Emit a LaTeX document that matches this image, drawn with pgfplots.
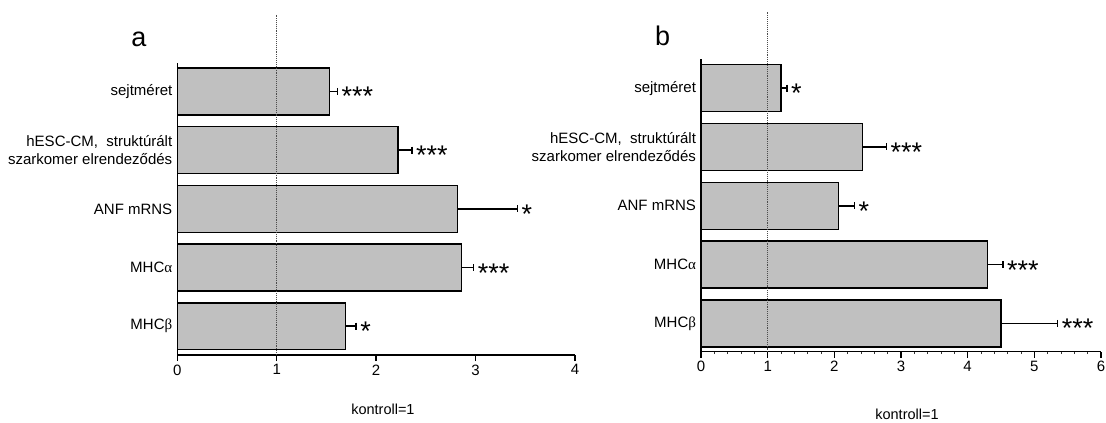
\documentclass[border=0pt]{standalone}
\usepackage{fontspec}
\setmainfont{Liberation Sans}
\newfontfamily\grk{Liberation Serif}
\usepackage{pgfplots}
\usepackage{pgfplotstable}
\pgfplotsset{compat=1.18}
\definecolor{barfill}{HTML}{C0C0C0}

\pgfplotstableread{
y v e s
4 1.53 0.08 ***
3 2.22 0.14 ***
2 2.82 0.60 *
1 2.86 0.12 ***
0 1.69 0.11 *
}\tablea

\pgfplotstableread{
y v e s
4 1.20 0.09 *
3 2.42 0.36 ***
2 2.06 0.24 *
1 4.30 0.23 ***
0 4.50 0.85 ***
}\tableb

\pgfplotsset{
  panel/.style={
    scale only axis,
    axis x line=bottom, axis y line=left,
    axis line style={-, line width=1.5pt},
    xmin=0,
    ytick={0,...,4},
    yticklabels={{MHC{\grk β}},{MHC{\grk α}},{ANF mRNS},{hESC-CM,\ \ struktúrált\\szarkomer elrendeződés},{sejtméret}},
    major y tick style={draw=none},
    major x tick style={line width=1.4pt, black},
    minor x tick style={line width=0.8pt, black!80},
    tick align=outside,
    major tick length=6pt,
    minor tick length=2.5pt,
    clip=false,
    /pgf/number format/assume math mode=true,
    tick label style={font=\fontsize{15}{18}\selectfont},
    yticklabel style={align=right, xshift=4.5pt},
    xlabel style={font=\fontsize{14.5}{17}\selectfont, anchor=base, inner sep=0pt},
    /pgfplots/error bars/error bar style={line width=1.6pt, solid, black},
    /pgfplots/error bars/error mark=|,
    /pgfplots/error bars/error mark options={line width=1.6pt, mark size=3.5pt, black, solid},
  },
  bars/.style={xbar, bar width=0.8, fill=barfill, draw=black, line width=1.5pt,
    error bars/.cd, x dir=plus, x explicit},
  stars/.style={draw=none, mark=none, nodes near coords, point meta=explicit symbolic,
    every node near coord/.append style={anchor=base west, inner sep=0pt, xshift=4pt, yshift=-14.5pt,
      font=\fontsize{27}{27}\selectfont, text=black}},
  refline/.style={densely dotted, line width=1.1pt, black!70},
}

\begin{document}
\begin{tikzpicture}
\path (0,0) rectangle (1106pt,423pt);

% panel a
\begin{axis}[panel,
  at={(177.3pt,68pt)}, anchor=south west,
  width=397.7pt, height=292.3pt,
  xmax=4, xtick={0,1,2,3,4},
  ymin=-0.49, ymax=4.49,
  xlabel={kontroll=1},
  xlabel style={at={(axis description cs:0.517,-0.205)}},
]
\addplot[bars] table[x=v, y=y, x error=e]{\tablea};
\addplot[stars] table[x expr=\thisrow{v}+\thisrow{e}, y=y, meta=s]{\tablea};
\addplot[refline] coordinates {(1,-0.49) (1,5.31)};
\end{axis}

% panel b
\begin{axis}[panel,
  at={(701pt,71.3pt)}, anchor=south west,
  width=400pt, height=293pt,
  xmax=6, xtick={0,1,2,3,4,5,6},
  minor x tick num=4,
  ymin=-0.48, ymax=4.5,
  xlabel={kontroll=1},
  xlabel style={at={(axis description cs:0.515,-0.2297)}},
]
\addplot[bars] table[x=v, y=y, x error=e]{\tableb};
\addplot[stars] table[x expr=\thisrow{v}+\thisrow{e}, y=y, meta=s]{\tableb};
\addplot[refline] coordinates {(1,-0.48) (1,5.3)};
\end{axis}

\node[anchor=base, font=\fontsize{27}{27}\selectfont, inner sep=0pt] at (139pt,376.6pt) {a};
\node[anchor=base, font=\fontsize{27}{27}\selectfont, inner sep=0pt] at (662.7pt,377.7pt) {b};

\pgfresetboundingbox
\useasboundingbox (0,0) rectangle (1106pt,423pt);
\end{tikzpicture}
\end{document}
